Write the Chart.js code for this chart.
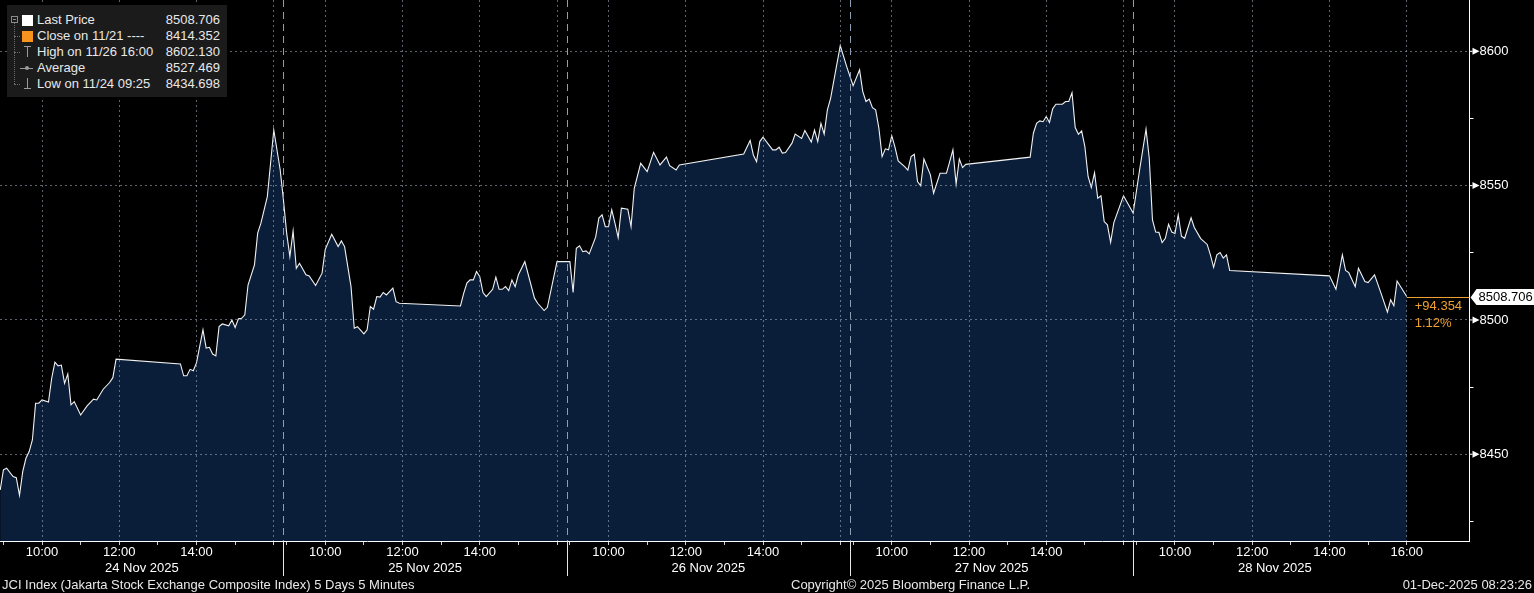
<!DOCTYPE html>
<html>
<head>
<meta charset="utf-8">
<title>JCI Index 5 Days 5 Minutes</title>
<script src="https://cdn.jsdelivr.net/npm/chart.js@4.4.1/dist/chart.umd.min.js"></script>
<style>
    html, body { margin: 0; padding: 0; background: #000; }
    #wrap { position: relative; width: 1534px; height: 593px; overflow: hidden; font-family: "Liberation Sans", Arial, sans-serif; color: #e8e8e8; }
    #chart { position: absolute; left: 0; top: 0; }
    .abs { position: absolute; }
    .lg-box { left: 7px; top: 5px; width: 220px; height: 92px; background: #1b1b1b; }
    .lg-row { position: absolute; left: 37px; width: 183px; height: 16px; line-height: 16px; font-size: 13px; white-space: nowrap; }
    .lg-row .v { position: absolute; right: 0; top: 0; }
    .foot { position: absolute; top: 577px; height: 16px; line-height: 16px; font-size: 13px; white-space: nowrap; color: #e8e8e8; }
</style>
</head>
<body>
<div id="wrap">
    <canvas id="chart" width="1534" height="593"></canvas>

    <!-- legend box -->
    <div class="abs lg-box"></div>
    <div class="abs" style="left:11px;top:16px;width:5px;height:5px;border:1px solid #8a8a8a;"></div>
    <div class="abs" style="left:13px;top:19px;width:3px;height:1px;background:#8a8a8a;"></div>
    <div class="abs" style="left:14px;top:23px;width:0;height:61px;border-left:1px dotted #6a6a6a;"></div>
    <div class="abs" style="left:14px;top:36px;width:6px;height:0;border-top:1px dotted #6a6a6a;"></div>
    <div class="abs" style="left:14px;top:52px;width:6px;height:0;border-top:1px dotted #6a6a6a;"></div>
    <div class="abs" style="left:14px;top:84px;width:6px;height:0;border-top:1px dotted #6a6a6a;"></div>
    <div class="abs" style="left:22px;top:15px;width:11px;height:11px;background:#ffffff;"></div>
    <div class="abs" style="left:22px;top:31px;width:11px;height:11px;background:#f7941d;"></div>
    <div class="abs" style="left:24px;top:46px;width:7px;height:1px;background:#9a9a9a;"></div>
    <div class="abs" style="left:27px;top:46px;width:1px;height:11px;background:#9a9a9a;"></div>
    <div class="abs" style="left:20px;top:68px;width:13px;height:1px;background:#9a9a9a;"></div>
    <div class="abs" style="left:25px;top:66px;width:4px;height:4px;border-radius:2px;background:#9a9a9a;"></div>
    <div class="abs" style="left:27px;top:78px;width:1px;height:11px;background:#9a9a9a;"></div>
    <div class="abs" style="left:24px;top:88px;width:7px;height:1px;background:#9a9a9a;"></div>

    <div class="lg-row" style="top:12px;">Last Price<span class="v">8508.706</span></div>
    <div class="lg-row" style="top:28px;">Close on 11/21 ----<span class="v">8414.352</span></div>
    <div class="lg-row" style="top:44px;">High on 11/26 16:00<span class="v">8602.130</span></div>
    <div class="lg-row" style="top:60px;">Average<span class="v">8527.469</span></div>
    <div class="lg-row" style="top:76px;">Low on 11/24 09:25<span class="v">8434.698</span></div>

    <!-- footer -->
    <div class="foot" style="left:2px;">JCI Index (Jakarta Stock Exchange Composite Index) 5 Days 5 Minutes</div>
    <div class="foot" style="left:791px;">Copyright© 2025 Bloomberg Finance L.P.</div>
    <div class="foot" style="right:2px;">01-Dec-2025 08:23:26</div>
</div>

<script>
// ============================================
// JCI Index — 5 day intraday chart (5 minute bars)
// ============================================

const FONT = '"Liberation Sans", Arial, sans-serif';
const GRID = 'rgba(170, 182, 198, 0.55)';
const DAY_LEN = 440; // axis minutes per session slot, 09:00 -> 16:20

const dayLabels = ['24 Nov 2025', '25 Nov 2025', '26 Nov 2025', '27 Nov 2025', '28 Nov 2025'];

const day1 = [
    ['08:55', 8436.7], ['09:00', 8444.2], ['09:05', 8444.8], ['09:15', 8441.7], ['09:20', 8441.3],
    ['09:25', 8434.7], ['09:30', 8443.5], ['09:35', 8448.5], ['09:40', 8451.0], ['09:45', 8455.3],
    ['09:50', 8469.0], ['09:55', 8469.0], ['10:00', 8470.2], ['10:10', 8469.4], ['10:15', 8478.3],
    ['10:20', 8484.3], ['10:25', 8482.9], ['10:30', 8483.2], ['10:35', 8476.4], ['10:40', 8479.9],
    ['10:45', 8468.4], ['10:50', 8469.6], ['11:00', 8464.6], ['11:10', 8468.0], ['11:20', 8470.5],
    ['11:25', 8470.2], ['11:35', 8474.2], ['11:45', 8476.7], ['11:50', 8478.5], ['11:55', 8485.4],
    ['13:35', 8483.6], ['13:40', 8479.2], ['13:45', 8479.2], ['13:50', 8481.6], ['13:55', 8481.1],
    ['14:00', 8484.1], ['14:10', 8496.3], ['14:15', 8489.5], ['14:20', 8489.8], ['14:25', 8487.3],
    ['14:30', 8486.6], ['14:35', 8497.5], ['14:40', 8498.5], ['14:50', 8497.8], ['14:55', 8500.0],
    ['15:00', 8497.2], ['15:05', 8500.4], ['15:10', 8500.6], ['15:15', 8501.9], ['15:20', 8513.0],
    ['15:30', 8520.5], ['15:35', 8532.3], ['15:40', 8536.0], ['15:50', 8545.9], ['16:00', 8570.7],
    ['16:10', 8555.8], ['16:15', 8544.7],
];

const day2 = [
    ['09:00', 8532.3], ['09:05', 8523.6], ['09:10', 8533.1], ['09:15', 8519.2], ['09:20', 8521.1],
    ['09:30', 8516.8], ['09:35', 8516.4], ['09:45', 8512.8], ['09:55', 8517.4], ['10:00', 8526.3],
    ['10:10', 8531.9], ['10:20', 8527.3], ['10:25', 8529.4], ['10:30', 8527.3], ['10:40', 8512.4],
    ['10:45', 8496.9], ['10:50', 8497.5], ['11:00', 8494.8], ['11:05', 8496.3], ['11:10', 8505.0],
    ['11:15', 8504.0], ['11:20', 8508.7], ['11:25', 8508.5], ['11:30', 8510.2], ['11:35', 8509.3],
    ['11:45', 8511.8], ['11:50', 8506.8], ['11:55', 8506.2], ['13:30', 8505.2], ['13:35', 8509.9],
    ['13:40', 8513.7], ['13:45', 8514.9], ['13:50', 8514.9], ['13:55', 8518.0], ['14:00', 8516.1],
    ['14:05', 8510.2], ['14:10', 8508.7], ['14:20', 8511.4], ['14:25', 8515.9], ['14:30', 8511.4],
    ['14:35', 8511.4], ['14:40', 8512.4], ['14:45', 8510.9], ['14:50', 8514.9], ['14:55', 8512.4],
    ['15:00', 8516.8], ['15:10', 8521.7], ['15:25', 8508.1], ['15:30', 8506.2], ['15:40', 8503.5],
    ['15:45', 8504.7], ['16:00', 8521.7],
];

const day3 = [
    ['09:00', 8521.7], ['09:05', 8510.2], ['09:10', 8526.7], ['09:15', 8527.6], ['09:20', 8525.4],
    ['09:25', 8525.7], ['09:30', 8524.6], ['09:40', 8530.8], ['09:45', 8537.9], ['09:50', 8539.1],
    ['09:55', 8534.7], ['10:00', 8534.7], ['10:05', 8541.0], ['10:10', 8536.0], ['10:15', 8530.6],
    ['10:20', 8541.6], ['10:30', 8541.2], ['10:35', 8534.7], ['10:40', 8549.0], ['10:50', 8558.3],
    ['11:00', 8555.2], ['11:10', 8562.4], ['11:20', 8557.7], ['11:30', 8560.6], ['11:35', 8557.4],
    ['11:45', 8555.8], ['11:50', 8557.7], ['13:30', 8561.8], ['13:40', 8566.8], ['13:45', 8561.4],
    ['13:50', 8558.9], ['13:55', 8566.4], ['14:00', 8568.0], ['14:15', 8563.3], ['14:20', 8563.3],
    ['14:25', 8564.3], ['14:30', 8562.1], ['14:35', 8562.3], ['14:45', 8565.8], ['14:50', 8569.2],
    ['15:00', 8567.6], ['15:05', 8570.5], ['15:15', 8566.2], ['15:20', 8570.7], ['15:25', 8566.4],
    ['15:30', 8573.2], ['15:35', 8569.2], ['15:40', 8578.2], ['15:45', 8582.5], ['16:00', 8602.1],
    ['16:10', 8594.3],
];

const day4 = [
    ['09:00', 8587.2], ['09:10', 8593.1], ['09:15', 8585.0], ['09:20', 8581.3], ['09:25', 8582.2],
    ['09:30', 8579.0], ['09:35', 8578.2], ['09:40', 8571.4], ['09:45', 8560.8], ['09:50', 8563.7],
    ['09:55', 8563.3], ['10:00', 8568.6], ['10:05', 8564.3], ['10:10', 8559.2], ['10:20', 8557.1],
    ['10:25', 8555.8], ['10:30', 8560.8], ['10:35', 8561.7], ['10:40', 8551.5], ['10:45', 8549.9],
    ['10:50', 8559.9], ['11:00', 8554.0], ['11:05', 8547.2], ['11:15', 8554.6], ['11:25', 8554.6],
    ['11:30', 8558.9], ['11:35', 8563.3], ['11:40', 8550.6], ['11:45', 8559.9], ['11:50', 8556.7],
    ['11:55', 8557.9], ['13:35', 8560.6], ['13:40', 8569.5], ['13:45', 8573.2], ['13:50', 8574.1],
    ['13:55', 8573.8], ['14:00', 8575.7], ['14:05', 8573.5], ['14:10', 8578.6], ['14:15', 8580.3],
    ['14:25', 8580.3], ['14:30', 8581.3], ['14:35', 8581.3], ['14:40', 8584.6], ['14:45', 8571.6],
    ['14:50', 8569.1], ['14:55', 8570.4], ['15:00', 8564.5], ['15:05', 8553.4], ['15:10', 8549.3],
    ['15:15', 8554.8], ['15:20', 8545.3], ['15:25', 8546.2], ['15:30', 8536.6], ['15:35', 8535.4],
    ['15:40', 8528.9], ['15:45', 8536.2], ['16:00', 8546.2], ['16:15', 8539.8],
];

const day5 = [
    ['09:05', 8555.8], ['09:15', 8571.0], ['09:20', 8560.2], ['09:25', 8537.2], ['09:30', 8532.7],
    ['09:35', 8532.6], ['09:40', 8528.8], ['09:45', 8530.4], ['09:50', 8535.6], ['09:55', 8532.7],
    ['10:00', 8532.2], ['10:05', 8539.1], ['10:10', 8531.2], ['10:15', 8530.4], ['10:25', 8538.0],
    ['10:30', 8534.4], ['10:40', 8530.3], ['10:50', 8528.1], ['10:55', 8524.2], ['11:00', 8519.6],
    ['11:05', 8524.2], ['11:10', 8525.1], ['11:15', 8523.0], ['11:20', 8524.2], ['11:25', 8518.4],
    ['14:00', 8516.4], ['14:10', 8511.4], ['14:20', 8524.2], ['14:25', 8518.4], ['14:30', 8517.6],
    ['14:40', 8512.4], ['14:45', 8519.2], ['14:55', 8514.3], ['15:00', 8513.9], ['15:10', 8516.8],
    ['15:20', 8510.0], ['15:30', 8502.9], ['15:35', 8507.5], ['15:40', 8505.3], ['15:45', 8514.5],
    ['16:00', 8508.706],
];

const timeTickLabels = ['10:00', '12:00', '14:00'];
const lastDayTickLabels = ['10:00', '12:00', '14:00', '16:00'];
const priceTicks = [8450, 8500, 8550, 8600];
const minorPriceTicks = [8425, 8475, 8525, 8575];

const prevClose = 8414.352;
const lastPrice = 8508.706;

// ---------- helpers ----------
function toX(dayIdx, hhmm) {
    const [h, m] = hhmm.split(':').map(Number);
    return dayIdx * DAY_LEN + (h - 9) * 60 + m;
}

const days = [day1, day2, day3, day4, day5];
const points = [];
days.forEach((d, i) => d.forEach(([t, v]) => points.push({ x: toX(i, t), y: v })));

// hourly ticks 09:00..16:00 for each session, labels at 10/12/14 (+16 on last day)
const xTicks = [];
const xLabelMap = new Map();
const xGridSet = new Set();
days.forEach((_, i) => {
    for (let h = 9; h <= 16; h++) {
        const hh = String(h).padStart(2, '0') + ':00';
        const v = toX(i, hh);
        xTicks.push(v);
        const labels = i === days.length - 1 ? lastDayTickLabels : timeTickLabels;
        if (labels.includes(hh)) xLabelMap.set(v, hh);
        if (h % 2 === 0) xGridSet.add(v);
    }
});

// day separators at 16:15
const separators = days.slice(1).map((_, i) => (i + 1) * DAY_LEN - 5);

// ---------- overlay plugin: separators, dates, axis arrows, last price tag ----------
const overlay = {
    id: 'bbgOverlay',
    afterDraw(chart) {
        const { ctx, chartArea: a, scales: { x, y } } = chart;
        ctx.save();

        separators.forEach(v => {
            const px = Math.round(x.getPixelForValue(v)) + 0.5;
            ctx.strokeStyle = '#8d9db3';
            ctx.lineWidth = 1;
            ctx.setLineDash([7, 5]);
            ctx.beginPath(); ctx.moveTo(px, a.top); ctx.lineTo(px, a.bottom); ctx.stroke();
            ctx.setLineDash([]);
            ctx.strokeStyle = '#e6e6e6';
            ctx.beginPath(); ctx.moveTo(px, a.bottom); ctx.lineTo(px, 576); ctx.stroke();
        });

        ctx.font = '13px ' + FONT;
        ctx.fillStyle = '#ffffff';
        ctx.textAlign = 'center';
        ctx.textBaseline = 'middle';
        dayLabels.forEach((lbl, i) => ctx.fillText(lbl, x.getPixelForValue(i * DAY_LEN + 215), 568));

        // arrow markers on labelled price ticks
        ctx.fillStyle = '#ffffff';
        priceTicks.forEach(v => {
            const py = y.getPixelForValue(v);
            ctx.fillRect(a.right, py - 0.5, 3, 1);
            ctx.beginPath();
            ctx.moveTo(a.right + 3, py - 3.5);
            ctx.lineTo(a.right + 10, py);
            ctx.lineTo(a.right + 3, py + 3.5);
            ctx.closePath();
            ctx.fill();
        });

        // last price line, tag and change
        const last = points[points.length - 1];
        const lx = x.getPixelForValue(last.x);
        const ly = Math.round(y.getPixelForValue(lastPrice)) + 0.5;
        ctx.strokeStyle = '#f0a030';
        ctx.beginPath(); ctx.moveTo(lx, ly); ctx.lineTo(a.right, ly); ctx.stroke();

        ctx.fillStyle = '#ffffff';
        ctx.beginPath();
        ctx.moveTo(a.right + 1, ly);
        ctx.lineTo(a.right + 7, ly - 8.5);
        ctx.lineTo(chart.width, ly - 8.5);
        ctx.lineTo(chart.width, ly + 7.5);
        ctx.lineTo(a.right + 7, ly + 7.5);
        ctx.closePath();
        ctx.fill();
        ctx.fillStyle = '#000000';
        ctx.textAlign = 'left';
        ctx.fillText(lastPrice.toFixed(3), a.right + 9, ly);

        const chg = lastPrice - prevClose;
        ctx.fillStyle = '#f0a030';
        ctx.fillText('+' + chg.toFixed(3), lx + 8, ly + 9);
        ctx.fillText((chg / prevClose * 100).toFixed(2) + '%', lx + 8, ly + 26);

        ctx.restore();
    }
};

Chart.defaults.font.family = FONT;

new Chart(document.getElementById('chart'), {
    type: 'line',
    data: {
        datasets: [{
            label: 'Last Price',
            data: points,
            borderColor: '#f2f2f2',
            borderWidth: 1.1,
            backgroundColor: '#0a1e3a',
            fill: 'start',
            pointRadius: 0,
            tension: 0,
        }]
    },
    options: {
        responsive: false,
        animation: false,
        layout: { padding: 0, autoPadding: false },
        plugins: { legend: { display: false }, tooltip: { enabled: false } },
        scales: {
            x: {
                type: 'linear',
                min: -5.3,
                max: 2277.5,
                afterBuildTicks: s => { s.ticks = xTicks.map(v => ({ value: v })); },
                afterFit: s => { s.height = 52; s.paddingLeft = 0; s.paddingRight = 0; },
                ticks: {
                    autoSkip: false, maxRotation: 0, minRotation: 0, padding: 0,
                    color: '#ffffff', font: { size: 13 },
                    callback: v => xLabelMap.get(v) || '',
                },
                grid: {
                    z: 1, tickLength: 4, lineWidth: 1,
                    color: c => (c.tick && xGridSet.has(c.tick.value)) ? GRID : 'transparent',
                    tickColor: '#cfcfcf',
                },
                border: { color: '#ffffff', width: 1, dash: [2, 3], z: 2 },
            },
            y: {
                type: 'linear',
                position: 'right',
                min: 8417.7,
                max: 8619.1,
                afterBuildTicks: s => {
                    s.ticks = [...priceTicks, ...minorPriceTicks].sort((p, q) => p - q).map(v => ({ value: v }));
                },
                afterFit: s => { s.width = 64.5; s.paddingTop = 0; s.paddingBottom = 0; },
                ticks: {
                    padding: 6, color: '#ffffff', font: { size: 13 },
                    callback: v => priceTicks.includes(v) ? String(v) : '',
                },
                grid: {
                    z: 1, tickLength: 4, lineWidth: 1,
                    color: c => (c.tick && priceTicks.includes(c.tick.value)) ? GRID : 'transparent',
                    tickColor: c => (c.tick && priceTicks.includes(c.tick.value)) ? 'transparent' : '#ffffff',
                },
                border: { color: '#ffffff', width: 1, dash: [2, 3], z: 2 },
            }
        }
    },
    plugins: [overlay]
});
</script>
</body>
</html>
